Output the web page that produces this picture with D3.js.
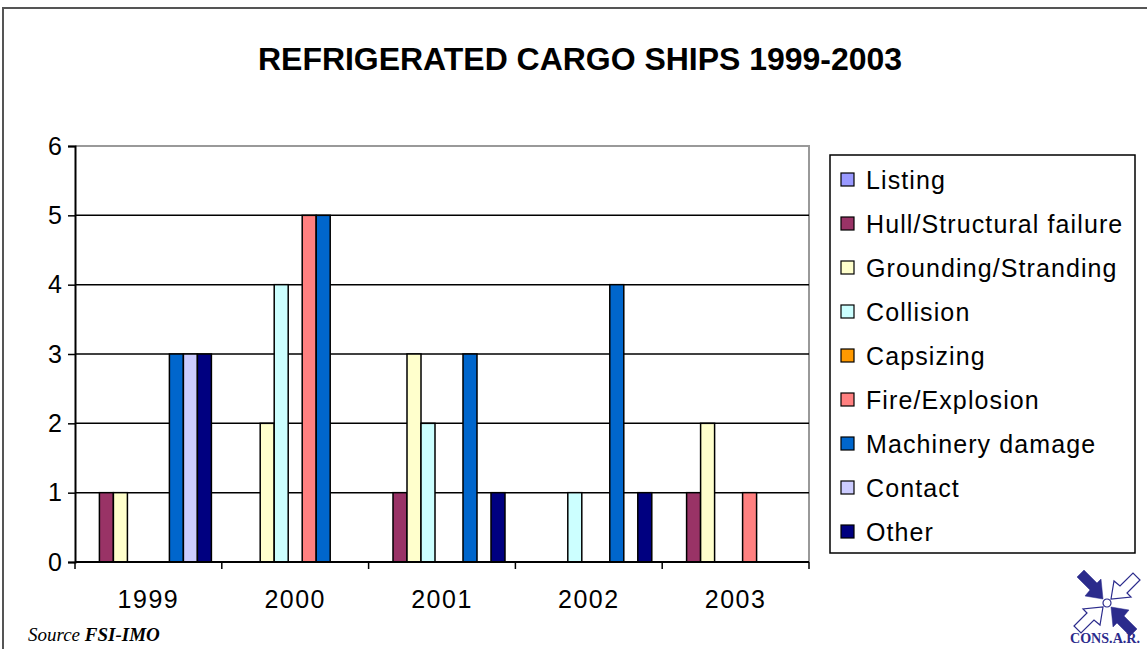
<!DOCTYPE html>
<html>
<head>
<meta charset="utf-8">
<script src="https://cdnjs.cloudflare.com/ajax/libs/d3/7.8.5/d3.min.js"></script>
<style>
  body { margin: 0; background: #fff; }
  svg { display: block; }
</style>
</head>
<body>
<svg id="chart" width="1147" height="649"></svg>
<script>
// data
var years = ['1999', '2000', '2001', '2002', '2003'];
var causes = ['Listing', 'Hull/Structural failure', 'Grounding/Stranding', 'Collision',
              'Capsizing', 'Fire/Explosion', 'Machinery damage', 'Contact', 'Other'];
var causeColors = ['#9999ff', '#993366', '#ffffcc', '#ccffff', '#ff9900',
                   '#ff8080', '#0066cc', '#ccccff', '#000080'];
// one row per year, one value per cause
var counts = [
  [0, 1, 1, 0, 0, 0, 3, 3, 3],
  [0, 0, 2, 4, 0, 5, 5, 0, 0],
  [0, 1, 3, 2, 0, 0, 3, 0, 1],
  [0, 0, 0, 1, 0, 0, 4, 0, 1],
  [0, 1, 2, 0, 0, 1, 0, 0, 0]
];
var yTicks = [0, 1, 2, 3, 4, 5, 6];

var svg = d3.select('#chart');
var font = "'Liberation Sans', Arial, sans-serif";

// outer frame (cut off at right and bottom)
svg.append('path')
  .attr('d', 'M3,649 V8 H1147')
  .attr('fill', 'none')
  .attr('stroke', '#555')
  .attr('stroke-width', 2);

svg.append('text')
  .attr('x', 580).attr('y', 70)
  .attr('text-anchor', 'middle')
  .attr('font-family', font)
  .attr('font-size', 32)
  .attr('font-weight', 'bold')
  .attr('textLength', 644)
  .attr('lengthAdjust', 'spacingAndGlyphs')
  .text('REFRIGERATED CARGO SHIPS 1999-2003');

var plot = {left: 75, right: 809, top: 146, bottom: 562};

var x0 = d3.scaleBand().domain(years)
  .range([plot.left, plot.right])
  .paddingInner(0.1417).paddingOuter(0.0709);
var x1 = d3.scaleBand().domain(causes).range([0, x0.bandwidth()]);
var y = d3.scaleLinear().domain([0, 6]).range([plot.bottom, plot.top]);

// plot frame: grey top/right
svg.append('path')
  .attr('d', 'M' + plot.left + ',' + plot.top + ' H' + plot.right + ' V' + plot.bottom)
  .attr('fill', 'none').attr('stroke', '#999').attr('stroke-width', 2);

// gridlines
svg.append('g').selectAll('line')
  .data(yTicks.filter(function(d) { return d > 0 && d < 6; }))
  .join('line')
  .attr('x1', plot.left).attr('x2', plot.right)
  .attr('y1', function(d) { return y(d); }).attr('y2', function(d) { return y(d); })
  .attr('stroke', '#000').attr('stroke-width', 1.5);

// bars
var groups = svg.append('g').selectAll('g')
  .data(counts)
  .join('g')
  .attr('transform', function(d, i) { return 'translate(' + x0(years[i]) + ',0)'; });

groups.selectAll('rect')
  .data(function(row) {
    return row.map(function(v, j) { return {cause: causes[j], value: v, color: causeColors[j]}; })
      .filter(function(d) { return d.value > 0; });
  })
  .join('rect')
  .attr('x', function(d) { return x1(d.cause); })
  .attr('y', function(d) { return y(d.value); })
  .attr('width', x1.bandwidth())
  .attr('height', function(d) { return y(0) - y(d.value); })
  .attr('fill', function(d) { return d.color; })
  .attr('stroke', '#000')
  .attr('stroke-width', 1.5);

// y axis
var yAxis = svg.append('g')
  .attr('transform', 'translate(' + plot.left + ',0)')
  .call(d3.axisLeft(y).tickValues(yTicks).tickSize(7).tickPadding(6).tickFormat(d3.format('d')));
// x axis
var xAxis = svg.append('g')
  .attr('transform', 'translate(0,' + plot.bottom + ')')
  .call(d3.axisBottom(x0).tickSize(0).tickPadding(28));

[yAxis, xAxis].forEach(function(a) {
  a.select('.domain').attr('stroke', '#000').attr('stroke-width', 2);
  a.selectAll('line').attr('stroke', '#000').attr('stroke-width', 1.5);
  a.selectAll('text').attr('font-family', font).attr('font-size', 25).attr('fill', '#000');
});
xAxis.selectAll('text').attr('letter-spacing', 1.5);
xAxis.select('.domain').attr('d', 'M' + plot.left + ',0 H' + plot.right);

// category separator ticks on x axis
var sepX = years.map(function(d) { return x0(d) - x0.step() * x0.paddingInner() / 2; });
sepX.push(plot.right);
svg.append('g').selectAll('line')
  .data(sepX)
  .join('line')
  .attr('x1', function(d) { return d; }).attr('x2', function(d) { return d; })
  .attr('y1', plot.bottom).attr('y2', plot.bottom + 7)
  .attr('stroke', '#000').attr('stroke-width', 1.5);

// legend
var legend = svg.append('g');
legend.append('rect')
  .attr('x', 830).attr('y', 155).attr('width', 305).attr('height', 398)
  .attr('fill', '#fff').attr('stroke', '#000').attr('stroke-width', 1.5);
var items = legend.selectAll('g.item')
  .data(causes)
  .join('g')
  .attr('class', 'item')
  .attr('transform', function(d, i) { return 'translate(841,' + (180 + i * 44) + ')'; });
items.append('rect')
  .attr('x', 0).attr('y', -7).attr('width', 13).attr('height', 13)
  .attr('fill', function(d, i) { return causeColors[i]; })
  .attr('stroke', '#000').attr('stroke-width', 1.2);
items.append('text')
  .attr('x', 25).attr('y', 9)
  .attr('font-family', font).attr('font-size', 25)
  .attr('letter-spacing', 1.1)
  .text(function(d) { return d; });

// source note
var src = svg.append('text')
  .attr('x', 28).attr('y', 641)
  .attr('font-family', "'Liberation Serif', 'Times New Roman', serif")
  .attr('font-size', 19).attr('font-style', 'italic');
src.append('tspan').text('Source ');
src.append('tspan').attr('font-weight', 'bold').text('FSI-IMO');

// CONS.A.R. logo: four arrows pointing to a small ring
var logo = svg.append('g').attr('transform', 'translate(1107,603)');
var navy = '#2b2b8c';
[[0, true], [90, false], [180, true], [270, false]].forEach(function(a) {
  logo.append('path')
    .attr('d', 'M-4,-4 L-22,-7 L-17,-13 L-30,-26 L-23,-33 L-10,-20 L-6,-24 Z')
    .attr('transform', 'rotate(' + a[0] + ')')
    .attr('fill', a[1] ? navy : '#fff')
    .attr('stroke', navy).attr('stroke-width', a[1] ? 0.5 : 1.2);
});
logo.append('circle').attr('r', 4).attr('fill', '#fff').attr('stroke', navy).attr('stroke-width', 1.2);
svg.append('text')
  .attr('x', 1070).attr('y', 643)
  .attr('font-family', "'Liberation Serif', 'Times New Roman', serif")
  .attr('font-size', 15).attr('font-weight', 'bold').attr('fill', navy)
  .attr('textLength', 70).attr('lengthAdjust', 'spacingAndGlyphs')
  .text('CONS.A.R.');
</script>
</body>
</html>
